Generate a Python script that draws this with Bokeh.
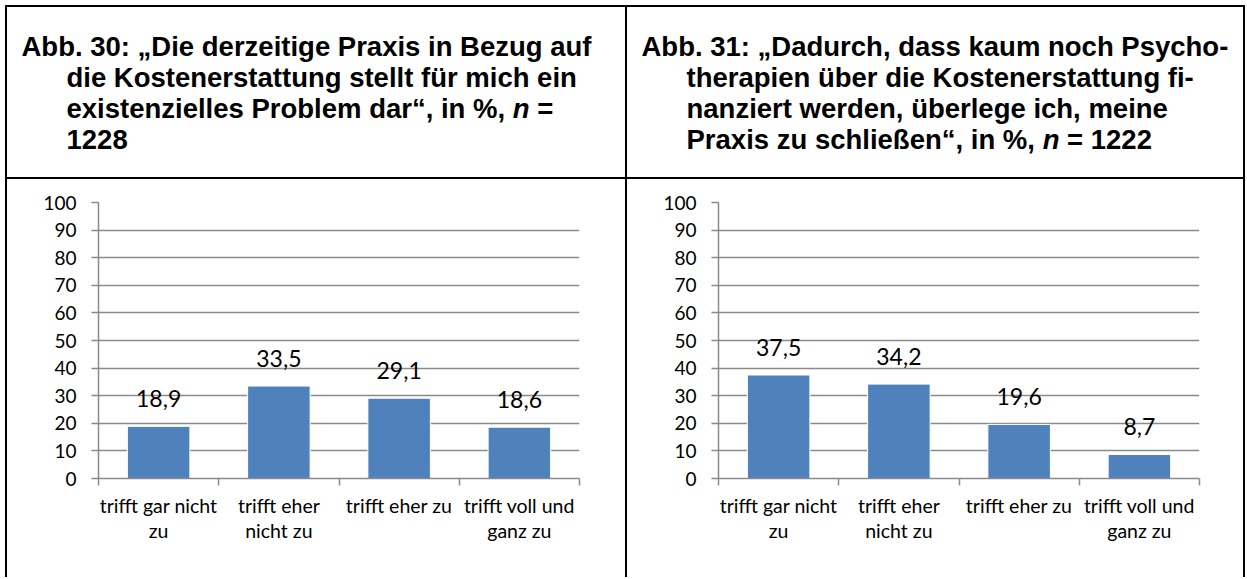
from bokeh.plotting import figure
from bokeh.models import Range1d, FixedTicker, Spacer, ColumnDataSource
from bokeh.layouts import row, column
from bokeh.core.properties import value
from bokeh.embed import file_html
from bokeh.resources import INLINE

# ---------------- data ----------------
categories = ["trifft gar nicht zu", "trifft eher nicht zu", "trifft eher zu", "trifft voll und ganz zu"]
tick_labels = ["trifft gar nicht\nzu", "trifft eher\nnicht zu", "trifft eher zu", "trifft voll und\nganz zu"]
values_abb30 = [18.9, 33.5, 29.1, 18.6]
values_abb31 = [37.5, 34.2, 19.6, 8.7]
y_ticks = [0, 10, 20, 30, 40, 50, 60, 70, 80, 90, 100]

title_abb30 = [
    [("Abb. 30: „Die derzeitige Praxis in Bezug auf", False)],
    [("die Kostenerstattung stellt für mich ein", False)],
    [("existenzielles Problem dar“, in %, ", False), ("n", True), (" =", False)],
    [("1228", False)],
]
title_abb31 = [
    [("Abb. 31: „Dadurch, dass kaum noch Psycho-", False)],
    [("therapien über die Kostenerstattung fi-", False)],
    [("nanziert werden, überlege ich, meine", False)],
    [("Praxis zu schließen“, in %, ", False), ("n", True), (" = 1222", False)],
]

# ---------------- styling ----------------
BAR = "#4F81BD"
GRID = "#8a8a8a"
TFONT = "Liberation Sans"
TSIZE = 27.5
CFONT = "Lato"

# Helvetica-Bold advance widths (per 1000 em) used to place the italic "n"
W = {" ": 278, "%": 889, ",": 278, "-": 333, ".": 278, ":": 333, "=": 584,
     "„": 500, "“": 500, "A": 722, "B": 722, "D": 722, "K": 722, "P": 667,
     "a": 556, "b": 611, "c": 556, "d": 611, "e": 556, "f": 333, "g": 611,
     "h": 611, "i": 278, "k": 556, "l": 278, "m": 889, "n": 611, "o": 611,
     "p": 611, "r": 389, "s": 556, "t": 333, "u": 611, "x": 556, "y": 556,
     "z": 500, "ß": 611, "ü": 611}


def tw(s):
    return sum(W.get(ch, 556) for ch in s) / 1000.0 * TSIZE


def title_fig(lines, w, h):
    p = figure(width=w, height=h, x_range=Range1d(0, w), y_range=Range1d(h, 0),
               x_axis_location=None, y_axis_location=None,
               output_backend="svg", toolbar_location=None, min_border=0,
               outline_line_color=None)
    p.title = None
    p.grid.visible = False
    reg = dict(x=[], y=[], t=[])
    ita = dict(x=[], y=[], t=[])
    for li, segs in enumerate(lines):
        cur = 14 if li == 0 else 59
        yb = 39 + li * 31
        for txt, italic in segs:
            lead = len(txt) - len(txt.lstrip(" "))
            d = ita if italic else reg
            d["x"].append(cur + tw(" " * lead))
            d["y"].append(yb)
            d["t"].append(txt.strip())
            cur += tw(txt)
    for d, style in ((reg, "bold"), (ita, "bold italic")):
        if d["t"]:
            p.text(x="x", y="y", text="t", source=ColumnDataSource(d),
                   text_font=value(TFONT), text_font_size=f"{TSIZE}px",
                   text_font_style=style, text_color="black",
                   text_align="left", text_baseline="alphabetic")
    return p


def chart_fig(vals, right_border, height):
    xs = list(range(len(categories)))
    p = figure(frame_width=481, frame_height=276,
               x_range=Range1d(-0.5, len(categories) - 0.5), y_range=Range1d(0, 100),
               min_border_left=91, min_border_right=right_border,
               min_border_top=23, min_border_bottom=height - 23 - 276,
               output_backend="svg", toolbar_location=None,
               outline_line_color=None, background_fill_color="white",
               border_fill_color="white")
    src = ColumnDataSource(dict(x=xs, top=vals,
                                label=[f"{v:.1f}".replace(".", ",") for v in vals]))
    p.vbar(x="x", top="top", width=0.52, source=src, fill_color=BAR,
           line_color="white", line_width=1)
    p.text(x="x", y="top", text="label", source=src, text_align="center",
           text_baseline="alphabetic", y_offset=-28, text_font=value(CFONT),
           text_font_size="23px", text_color="black")

    yt = FixedTicker(ticks=y_ticks)
    p.yaxis.ticker = yt
    p.ygrid.ticker = yt
    p.ygrid.grid_line_color = GRID
    p.ygrid.grid_line_width = 1.5
    p.xgrid.visible = False

    p.yaxis.axis_line_color = GRID
    p.yaxis.axis_line_width = 1.5
    p.yaxis.major_tick_line_color = GRID
    p.yaxis.major_tick_line_width = 1.5
    p.yaxis.major_tick_out = 7
    p.yaxis.major_tick_in = 0
    p.yaxis.minor_tick_line_color = None
    p.yaxis.major_label_standoff = 15
    p.yaxis.major_label_text_font = CFONT
    p.yaxis.major_label_text_font_size = "19px"
    p.yaxis.major_label_text_color = "black"

    p.xaxis.ticker = FixedTicker(ticks=xs, minor_ticks=[i - 0.5 for i in range(len(categories) + 1)])
    p.xaxis.major_label_overrides = {i: tick_labels[i] for i in xs}
    p.xaxis.axis_line_color = GRID
    p.xaxis.axis_line_width = 1.5
    p.xaxis.major_tick_line_color = None
    p.xaxis.major_tick_out = 0
    p.xaxis.major_tick_in = 0
    p.xaxis.minor_tick_line_color = GRID
    p.xaxis.minor_tick_line_width = 1.5
    p.xaxis.minor_tick_out = 7
    p.xaxis.minor_tick_in = 0
    p.xaxis.major_label_standoff = 8
    p.xaxis.major_label_text_font = CFONT
    p.xaxis.major_label_text_font_size = "19.5px"
    p.xaxis.major_label_text_color = "black"
    p.xaxis.major_label_text_line_height = 1.11
    return p


def blk(w, h):
    return Spacer(width=w, height=h, styles={"background-color": "black"})


CH = 398
t1 = title_fig(title_abb30, 618, 170)
t2 = title_fig(title_abb31, 616, 170)
c1 = chart_fig(values_abb30, 46, CH)
c2 = chart_fig(values_abb31, 44, CH)

layout = column(
    blk(1240, 2),
    row(blk(2, 170), t1, blk(2, 170), t2, blk(2, 170)),
    blk(1240, 2),
    row(blk(2, CH), c1, blk(2, CH), c2, blk(2, CH)),
    styles={"margin-left": "5px", "margin-top": "5px"},
)

open("out.html", "w").write(file_html(layout, INLINE))
